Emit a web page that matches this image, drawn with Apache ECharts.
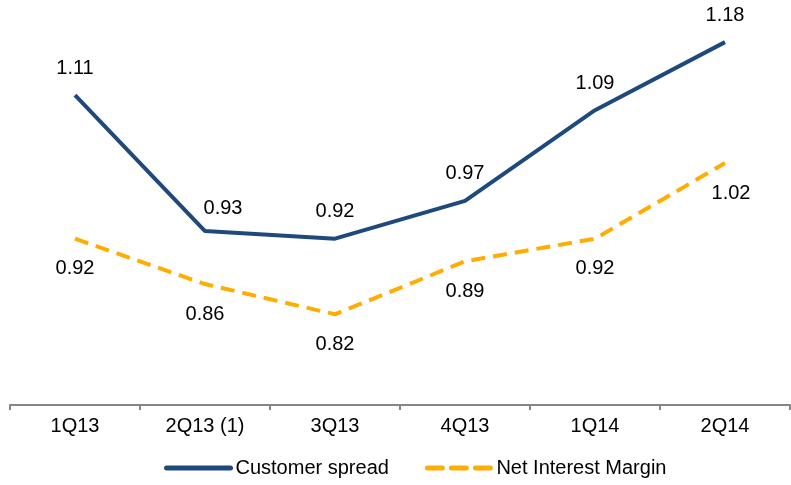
<!DOCTYPE html>
<html>
<head>
<meta charset="utf-8">
<script src="https://cdn.jsdelivr.net/npm/echarts@6/dist/echarts.min.js"></script>
<style>
html, body { margin: 0; padding: 0; background: #fff; }
#chart { width: 791px; height: 485px; }
</style>
</head>
<body>
<div id="chart"></div>
<script>
var quarters = ['1Q13', '2Q13 (1)', '3Q13', '4Q13', '1Q14', '2Q14'];
var customerSpread = [1.11, 0.93, 0.92, 0.97, 1.09, 1.18];
var netInterestMargin = [0.92, 0.86, 0.82, 0.89, 0.92, 1.02];

var font = 'Liberation Sans, Arial, sans-serif';

function spreadData() {
    return customerSpread.map(function (v, i) {
        var item = { value: v };
        // the 2Q13 label sits a bit to the right of its point
        if (i === 1) item.label = { offset: [18, 4] };
        return item;
    });
}

function marginData() {
    return netInterestMargin.map(function (v, i) {
        var item = { value: v };
        if (i === 5) item.label = { offset: [6, 0] };
        return item;
    });
}

var chart = echarts.init(document.getElementById('chart'));
var option = {
    animation: false,
    grid: {
        left: 10,
        right: 1,
        top: 27,
        bottom: 80
    },
    legend: {
        bottom: 2,
        left: 159,
        itemWidth: 64,
        itemHeight: 14,
        itemGap: 36,
        itemStyle: { opacity: 0 },
        lineStyle: { width: 5, cap: 'round' },
        textStyle: { fontFamily: font, fontSize: 20, color: '#000' },
        data: [
            { name: 'Customer spread' },
            { name: 'Net Interest Margin', lineStyle: { type: [15, 9], width: 5, cap: 'round' } }
        ]
    },
    xAxis: {
        type: 'category',
        data: quarters,
        boundaryGap: true,
        axisLine: { lineStyle: { color: '#868686', width: 2 } },
        axisTick: { show: true, length: 5, lineStyle: { color: '#868686', width: 2 } },
        axisLabel: { fontFamily: font, fontSize: 20, color: '#000', margin: 11 }
    },
    yAxis: {
        type: 'value',
        min: 0.7,
        max: 1.2,
        show: false
    },
    series: [
        {
            name: 'Customer spread',
            type: 'line',
            data: spreadData(),
            symbol: 'circle',
            symbolSize: 0,
            lineStyle: { color: '#1F497D', width: 4 },
            itemStyle: { color: '#1F497D' },
            label: {
                show: true,
                position: 'top',
                distance: 17,
                fontFamily: font,
                fontSize: 20,
                color: '#000',
                formatter: function (p) { return p.value.toFixed(2); }
            }
        },
        {
            name: 'Net Interest Margin',
            type: 'line',
            data: marginData(),
            symbol: 'circle',
            symbolSize: 0,
            lineStyle: { color: '#FFAD00', width: 4, type: [14, 8] },
            itemStyle: { color: '#FFAD00' },
            label: {
                show: true,
                position: 'bottom',
                distance: 20,
                fontFamily: font,
                fontSize: 20,
                color: '#000',
                formatter: function (p) { return p.value.toFixed(2); }
            }
        }
    ]
};
chart.setOption(option);
window.onresize = chart.resize;
</script>
</body>
</html>
